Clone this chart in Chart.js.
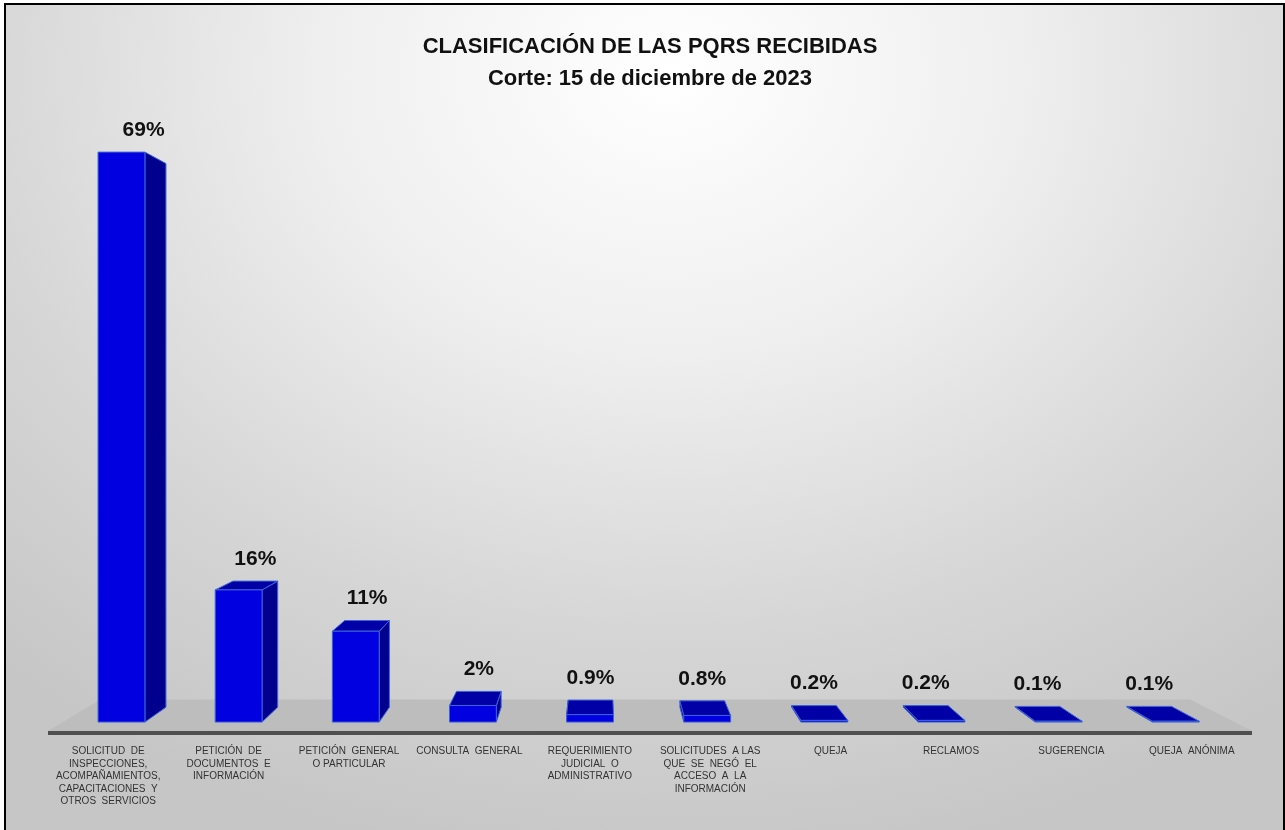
<!DOCTYPE html>
<html>
<head>
<meta charset="utf-8">
<title>Clasificación de las PQRS recibidas</title>
<script src="https://cdn.jsdelivr.net/npm/chart.js@4.4.1/dist/chart.umd.min.js"></script>
<style>
    html, body { margin: 0; padding: 0; background: #fff; overflow: hidden; }
    #frame {
        position: absolute; left: 4px; top: 3px; width: 1277px; height: 840px;
        border: 2px solid #000;
        background: radial-gradient(ellipse 78% 95% at 52% 8%, #ffffff 0%, #efefef 35%, #d6d6d6 70%, #c6c6c6 100%);
    }
    #wrap { position: absolute; left: 0; top: 0; width: 1285px; height: 830px; }
</style>
</head>
<body>
<div id="frame"></div>
<div id="wrap"><canvas id="chart"></canvas></div>
<script>
// Data
const categories = [
    ["SOLICITUD  DE", "INSPECCIONES,", "ACOMPAÑAMIENTOS,", "CAPACITACIONES  Y", "OTROS  SERVICIOS"],
    ["PETICIÓN  DE", "DOCUMENTOS  E", "INFORMACIÓN"],
    ["PETICIÓN  GENERAL", "O PARTICULAR"],
    ["CONSULTA  GENERAL"],
    ["REQUERIMIENTO", "JUDICIAL  O", "ADMINISTRATIVO"],
    ["SOLICITUDES  A LAS", "QUE  SE  NEGÓ  EL", "ACCESO  A  LA", "INFORMACIÓN"],
    ["QUEJA"],
    ["RECLAMOS"],
    ["SUGERENCIA"],
    ["QUEJA  ANÓNIMA"]
];
const percentages = [69, 16, 11, 2, 0.9, 0.8, 0.2, 0.2, 0.1, 0.1];
const titleLines = ["CLASIFICACIÓN DE LAS PQRS RECIBIDAS", "Corte: 15 de diciembre de 2023"];

// 3D look: vanishing point and depths (fractions toward the vanishing point)
const VP = { x: 600, y: 400 };
const FRONT_DEPTH = 0.027;
const BAR_DEPTH = 0.045;
const FLOOR_DEPTH = 0.095;

function proj(x, y, t) {
    return { x: x + t * (VP.x - x), y: y + t * (VP.y - y) };
}

function poly(ctx, pts, fill, stroke) {
    ctx.beginPath();
    ctx.moveTo(pts[0].x, pts[0].y);
    for (let i = 1; i < pts.length; i++) ctx.lineTo(pts[i].x, pts[i].y);
    ctx.closePath();
    ctx.fillStyle = fill;
    ctx.fill();
    if (stroke) {
        ctx.strokeStyle = stroke;
        ctx.lineWidth = 1;
        ctx.stroke();
    }
}

function fmtPct(v) {
    return (v >= 1 ? v.toFixed(0) : v.toFixed(1)) + "%";
}

const bars3d = {
    id: "bars3d",
    beforeDatasetsDraw(chart) {
        const { ctx, chartArea: a } = chart;
        const y0 = chart.scales.y.getPixelForValue(0);
        ctx.save();
        // floor top
        poly(ctx, [
            { x: a.left, y: y0 }, { x: a.right, y: y0 },
            proj(a.right, y0, FLOOR_DEPTH), proj(a.left, y0, FLOOR_DEPTH)
        ], "#bdbdbd");
        // floor front edge
        ctx.fillStyle = "#4f4f4f";
        ctx.fillRect(a.left, y0, a.right - a.left, 4);
        ctx.restore();
    },
    afterDatasetsDraw(chart) {
        const { ctx } = chart;
        const meta = chart.getDatasetMeta(0);
        const t1 = FRONT_DEPTH, t2 = FRONT_DEPTH + BAR_DEPTH;
        ctx.save();
        ctx.lineJoin = "round";
        meta.data.forEach((el, i) => {
            const l = el.x - el.width / 2, r = el.x + el.width / 2;
            const top = el.y, base = el.base;
            const FLb = proj(l, base, t1), FRb = proj(r, base, t1);
            const FLt = proj(l, top, t1), FRt = proj(r, top, t1);
            const BLb = proj(l, base, t2), BRb = proj(r, base, t2);
            const BLt = proj(l, top, t2), BRt = proj(r, top, t2);
            const edge = "#3d63d6";
            // side face
            if (FRt.x < VP.x) poly(ctx, [FRb, FRt, BRt, BRb], "#00008f", edge);
            else poly(ctx, [FLb, FLt, BLt, BLb], "#00008f", edge);
            // top face
            if (FLt.y > VP.y) poly(ctx, [FLt, FRt, BRt, BLt], "#0000a6", edge);
            // front face
            poly(ctx, [FLb, FRb, FRt, FLt], "#0000e0", edge);

            // value label, centred over the back edge of the bar top
            const lx = (BLt.x + BRt.x) / 2;
            const ly = Math.min(FLt.y, BLt.y) - 22;
            ctx.fillStyle = "#111";
            ctx.font = "bold 21px 'Liberation Sans', Arial, sans-serif";
            ctx.textAlign = "center";
            ctx.textBaseline = "middle";
            ctx.fillText(fmtPct(percentages[i]), lx, ly);
        });
        ctx.restore();
    }
};

new Chart(document.getElementById("chart"), {
    type: "bar",
    data: {
        labels: categories,
        datasets: [{
            data: percentages,
            backgroundColor: "rgba(0,0,0,0)",
            borderWidth: 0,
            barPercentage: 0.4,
            categoryPercentage: 1
        }]
    },
    options: {
        responsive: true,
        maintainAspectRatio: false,
        animation: false,
        layout: { padding: { left: 48, right: 33, top: 6, bottom: 0 } },
        plugins: {
            legend: { display: false },
            tooltip: { enabled: false },
            title: {
                display: true,
                text: titleLines,
                color: "#111",
                font: { family: "'Liberation Sans', Arial, sans-serif", size: 22, weight: "bold", lineHeight: 1.45 },
                padding: { top: 25, bottom: 8 }
            }
        },
        scales: {
            x: {
                grid: { display: false, drawTicks: false },
                border: { display: false },
                ticks: {
                    autoSkip: false,
                    maxRotation: 0,
                    padding: 14,
                    color: "#333",
                    font: { family: "'Liberation Sans', Arial, sans-serif", size: 10, lineHeight: 1.25 }
                },
                afterFit(scale) { scale.height = 99; }
            },
            y: {
                display: false,
                min: 0,
                max: 74
            }
        }
    },
    plugins: [bars3d]
});
</script>
</body>
</html>
